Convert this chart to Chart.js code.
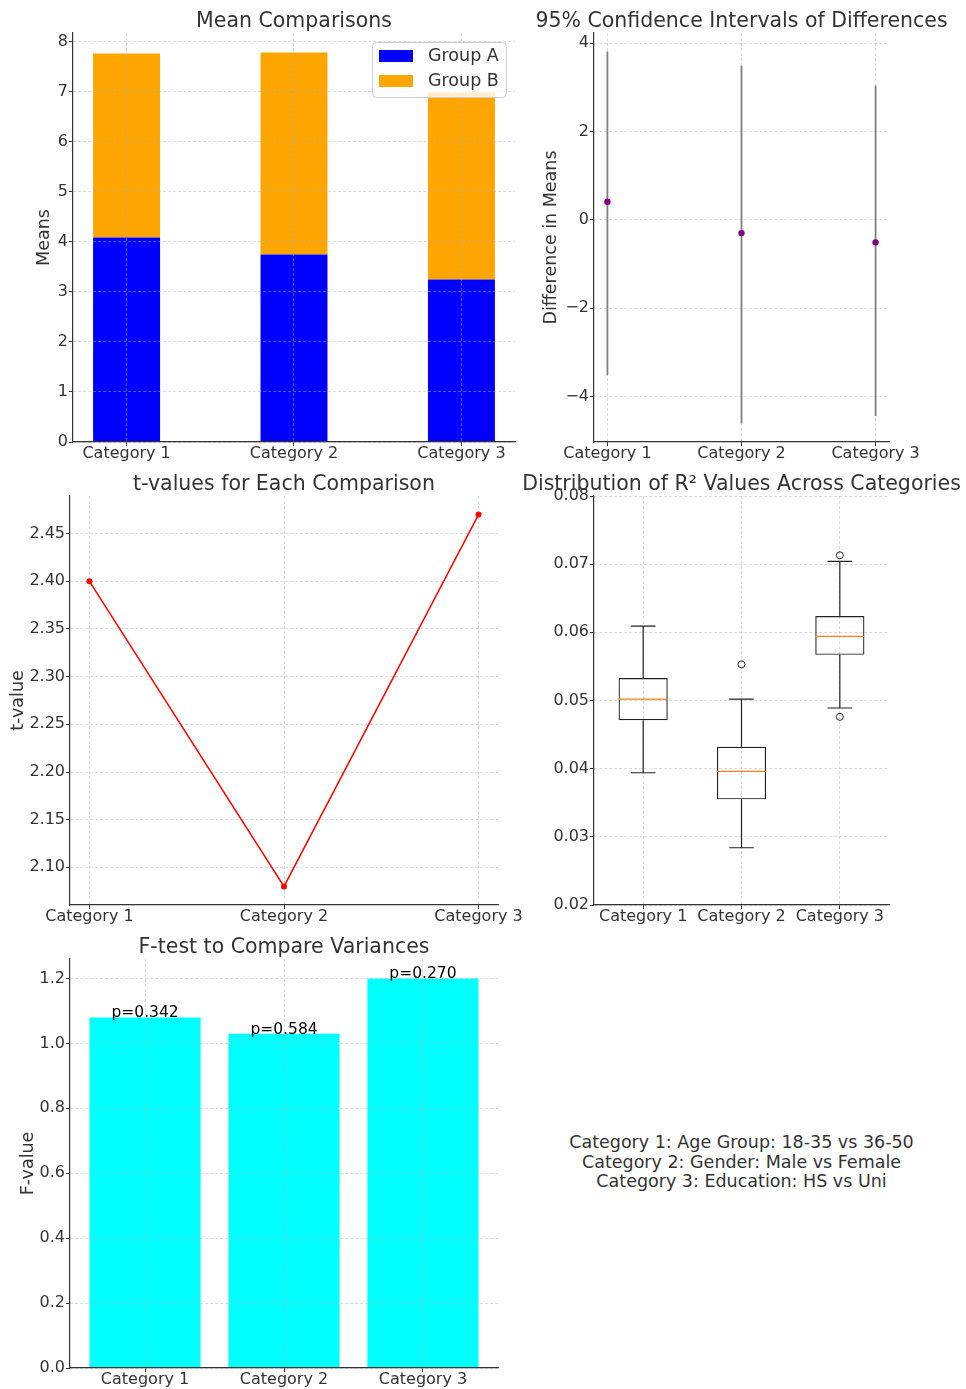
<!DOCTYPE html>
<html>
<head>
<meta charset="utf-8">
<title>Group comparisons</title>
<script src="https://cdn.jsdelivr.net/npm/chart.js@4.4.1/dist/chart.umd.min.js"></script>
<style>
  html, body { margin: 0; padding: 0; background: #fff; }
  body { width: 966px; height: 1389px; position: relative; overflow: hidden; }
  canvas { position: absolute; }
  #notes {
    position: absolute; left: 520px; width: 443px; top: 1133px;
    text-align: center; white-space: pre-line;
    font: 17.5px/19.5px 'DejaVu Sans', sans-serif; color: #333;
  }
</style>
</head>
<body>
<div id="notes"></div>
<script>
// ---- values ----
const categories = ['Category 1', 'Category 2', 'Category 3'];
const groupLabels = ['Group A', 'Group B'];

// mean comparisons (stacked bars)
const groupAMeans = [4.09, 3.75, 3.25];
const groupBMeans = [3.68, 4.04, 3.74];
const meansTicks = [0, 1, 2, 3, 4, 5, 6, 7, 8];

// 95% confidence intervals of the differences
const meanDiffs = [0.41, -0.30, -0.51];
const ciLower = [-3.52, -4.61, -4.44];
const ciUpper = [3.81, 3.49, 3.04];
const diffTicks = [-4, -2, 0, 2, 4];

// t-values
const tValues = [2.40, 2.08, 2.47];
const tTicks = [2.10, 2.15, 2.20, 2.25, 2.30, 2.35, 2.40, 2.45];

// R² distribution (box plot summaries)
const r2WhiskerLow = [0.0394, 0.0284, 0.0489];
const r2Q1 = [0.0471, 0.0355, 0.0567];
const r2Median = [0.0502, 0.0396, 0.0594];
const r2Q3 = [0.0533, 0.0432, 0.0624];
const r2WhiskerHigh = [0.0609, 0.0502, 0.0704];
const r2Outliers = [[], [0.0553], [0.0476, 0.0713]];
const r2Ticks = [0.02, 0.03, 0.04, 0.05, 0.06, 0.07, 0.08];

// F-test
const fValues = [1.08, 1.03, 1.20];
const pValues = [0.342, 0.584, 0.270];
const fTicks = [0, 0.2, 0.4, 0.6, 0.8, 1.0, 1.2];

const categoryNotes = [
    'Category 1: Age Group: 18-35 vs 36-50',
    'Category 2: Gender: Male vs Female',
    'Category 3: Education: HS vs Uni'
];

// ---- page layout: plot rectangles in page pixels ----
const panels = {
    means: { left: 73, top: 33, right: 515, bottom: 442, yAxis: 73, padTop: 33, padRight: 30, xAxis: 28, titleX: 44.5 },
    ci: { left: 594, top: 33, right: 889, bottom: 442, yAxis: 74, padTop: 33, padRight: 75, xAxis: 28, titleX: 551 },
    tvals: { left: 70, top: 496, right: 498, bottom: 905, yAxis: 70, padTop: 30, padRight: 40, xAxis: 28, titleX: 18.3 },
    r2: { left: 594, top: 496, right: 889, bottom: 905, yAxis: 84, padTop: 30, padRight: 77, xAxis: 28 },
    ftest: { left: 70, top: 959, right: 498, bottom: 1368, yAxis: 70, padTop: 30, padRight: 40, xAxis: 21, titleX: 28.3 }
};

const TEXT = '#333333';
const GRID = 'rgba(176, 176, 176, 0.6)';
const FONT = "'DejaVu Sans', 'Liberation Sans', sans-serif";

Chart.defaults.font.family = FONT;
Chart.defaults.font.size = 16;
Chart.defaults.color = TEXT;
Chart.defaults.animation = false;

document.getElementById('notes').textContent = categoryNotes.join('\n');

// matplotlib style 5% margins
function padRange(lo, hi) {
    const m = (hi - lo) * 0.05;
    return [lo - m, hi + m];
}

function minusSign(v) {
    return v < 0 ? '\u2212' + Math.abs(v) : String(v);
}

/**
 * Create a canvas placed so the chart area lands on the panel rectangle
 */
function placeCanvas(box) {
    const c = document.createElement('canvas');
    const w = box.yAxis + (box.right - box.left) + box.padRight;
    const h = box.padTop + (box.bottom - box.top) + box.xAxis;
    c.width = w;
    c.height = h;
    c.style.left = (box.left - box.yAxis) + 'px';
    c.style.top = (box.top - box.padTop) + 'px';
    c.style.width = w + 'px';
    c.style.height = h + 'px';
    document.body.appendChild(c);
    return c;
}

// grid sits above bars but below lines, like matplotlib
function gridOptions(onTop) {
    return { color: GRID, lineWidth: 0.8, z: onTop ? 1 : -1, offset: false, tickLength: 4, tickColor: TEXT, tickWidth: 1 };
}

function xAxis(box, range, ticks, labelFor, gridOnTop) {
    return {
        type: 'linear',
        min: range[0],
        max: range[1],
        offset: false,
        afterBuildTicks: s => { s.ticks = ticks.map(v => ({ value: v })); },
        afterFit: s => { s.height = box.xAxis; },
        grid: gridOptions(gridOnTop),
        border: { color: TEXT, width: 1.2, dash: [3, 2], z: 2 },
        ticks: { autoSkip: false, maxRotation: 0, padding: 0, color: TEXT, font: { size: 16, lineHeight: 1 }, callback: labelFor }
    };
}

function yAxis(box, range, ticks, fmt, title, gridOnTop) {
    const axis = {
        type: 'linear',
        min: range[0],
        max: range[1],
        afterBuildTicks: s => { s.ticks = ticks.map(v => ({ value: v })); },
        afterFit: s => { s.width = box.yAxis; },
        grid: gridOptions(gridOnTop),
        border: { color: TEXT, width: 1.2, dash: [3, 2], z: 2 },
        ticks: { padding: 1, color: TEXT, font: { size: 16, lineHeight: 1 }, callback: fmt }
    };
    if (title) {
        axis.title = {
            display: true,
            text: title,
            color: TEXT,
            font: { size: 17.5, lineHeight: 1.2 },
            padding: { top: box.titleX - (box.left - box.yAxis) - 17.5 * 1.2 / 2, bottom: 0 }
        };
    }
    return axis;
}

// panel title centred over the plot area
const panelTitle = {
    id: 'panelTitle',
    afterDraw(chart, args, opts) {
        const { ctx, chartArea } = chart;
        ctx.save();
        ctx.font = '20.5px ' + FONT;
        ctx.fillStyle = TEXT;
        ctx.textAlign = 'center';
        ctx.textBaseline = 'alphabetic';
        ctx.fillText(opts.text, (chartArea.left + chartArea.right) / 2, chartArea.top - 6);
        ctx.restore();
    }
};

// legend box drawn inside the top-right corner of the plot
const cornerLegend = {
    id: 'cornerLegend',
    afterDraw(chart) {
        const { ctx, chartArea } = chart;
        const items = chart.data.datasets;
        ctx.save();
        ctx.font = '17.5px ' + FONT;
        const textW = Math.max(...items.map(d => ctx.measureText(d.label).width));
        const w = 7 + 34 + 15 + textW + 7;
        const h = 55;
        const x0 = Math.round(chartArea.right - 9 - w);
        const y0 = Math.round(chartArea.top + 9);
        ctx.beginPath();
        ctx.roundRect(x0 + 0.5, y0 + 0.5, w, h, 4);
        ctx.fillStyle = 'rgba(255, 255, 255, 0.8)';
        ctx.fill();
        ctx.strokeStyle = '#cccccc';
        ctx.lineWidth = 1;
        ctx.stroke();
        items.forEach((d, i) => {
            const cy = y0 + 14 + i * 25;
            ctx.fillStyle = d.backgroundColor;
            ctx.fillRect(x0 + 7, cy - 6, 34, 12);
            ctx.fillStyle = TEXT;
            ctx.textAlign = 'left';
            ctx.textBaseline = 'middle';
            ctx.fillText(d.label, x0 + 56, cy);
        });
        ctx.restore();
    }
};

// p-values written on top of the F bars
const pLabels = {
    id: 'pLabels',
    afterDraw(chart) {
        const { ctx } = chart;
        const meta = chart.getDatasetMeta(0);
        ctx.save();
        ctx.font = '15.5px ' + FONT;
        ctx.fillStyle = '#000';
        ctx.textAlign = 'center';
        ctx.textBaseline = 'alphabetic';
        meta.data.forEach((bar, i) => {
            ctx.fillText('p=' + pValues[i].toFixed(3), bar.x, bar.y);
        });
        ctx.restore();
    }
};

// list of [[x1, y1], [x2, y2]] pairs -> one line dataset with gaps between pieces
function segments(pairs) {
    const out = [];
    pairs.forEach(([a, b]) => {
        out.push({ x: a[0], y: a[1] }, { x: b[0], y: b[1] }, { x: b[0], y: null });
    });
    return out;
}

function makeChart(box, type, datasets, scales, title, extra) {
    return new Chart(placeCanvas(box), {
        type,
        data: { datasets },
        options: {
            responsive: false,
            maintainAspectRatio: false,
            devicePixelRatio: 1,
            events: [],
            layout: { padding: { left: 0, top: box.padTop, right: box.padRight, bottom: 0 } },
            scales,
            plugins: {
                legend: { display: false },
                tooltip: { enabled: false },
                panelTitle: { text: title }
            }
        },
        plugins: [panelTitle].concat(extra || [])
    });
}

const catLabel = base => v => categories[Math.round(v - base)] || '';

// ---- 1. Mean Comparisons ----
const stackTops = groupAMeans.map((a, i) => a + groupBMeans[i]);
const meansXAxis = xAxis(panels.means, padRange(-0.2, 2.2), [0, 1, 2], catLabel(0), true);
meansXAxis.stacked = true;
const meansYAxis = yAxis(panels.means, [0, Math.max(...stackTops) * 1.05], meansTicks, v => String(v), 'Means', true);
meansYAxis.stacked = true;
makeChart(panels.means, 'bar', [
    { label: groupLabels[0], data: groupAMeans.map((v, i) => ({ x: i, y: v })), backgroundColor: '#0000ff', barPercentage: 0.4, categoryPercentage: 1 },
    { label: groupLabels[1], data: groupBMeans.map((v, i) => ({ x: i, y: v })), backgroundColor: '#ffa500', barPercentage: 0.4, categoryPercentage: 1 }
], { x: meansXAxis, y: meansYAxis }, 'Mean Comparisons', [cornerLegend]);

// ---- 2. Confidence intervals ----
makeChart(panels.ci, 'line', [
    {
        data: meanDiffs.map((v, i) => ({ x: i, y: v })),
        showLine: false, pointRadius: 3.2, pointBackgroundColor: '#800080', pointBorderColor: '#800080', pointBorderWidth: 0
    },
    {
        data: segments(categories.map((c, i) => [[i, ciLower[i]], [i, ciUpper[i]]])),
        borderColor: '#808080', borderWidth: 1.8, pointRadius: 0, spanGaps: false
    }
], {
    x: xAxis(panels.ci, padRange(0, 2), [0, 1, 2], catLabel(0)),
    y: yAxis(panels.ci, padRange(Math.min(...ciLower), Math.max(...ciUpper)), diffTicks, minusSign, 'Difference in Means')
}, '95% Confidence Intervals of Differences');

// ---- 3. t-values ----
makeChart(panels.tvals, 'line', [
    {
        data: tValues.map((v, i) => ({ x: i, y: v })),
        borderColor: '#ff0000', borderWidth: 1.5, tension: 0,
        pointRadius: 3, pointBackgroundColor: '#ff0000', pointBorderColor: '#ff0000', pointBorderWidth: 0
    }
], {
    x: xAxis(panels.tvals, padRange(0, 2), [0, 1, 2], catLabel(0)),
    y: yAxis(panels.tvals, padRange(Math.min(...tValues), Math.max(...tValues)), tTicks, v => v.toFixed(2), 't-value')
}, 't-values for Each Comparison');

// ---- 4. R² box plots ----
const BOX_HALF = 0.25;
const CAP_HALF = 0.125;
const pos = categories.map((c, i) => i + 1);
makeChart(panels.r2, 'bar', [
    {
        type: 'line',
        data: r2Outliers.flatMap((list, i) => list.map(v => ({ x: pos[i], y: v }))),
        showLine: false, pointRadius: 3.5, pointBackgroundColor: 'rgba(0,0,0,0)', pointBorderColor: '#222', pointBorderWidth: 1
    },
    {
        type: 'line',
        data: segments(pos.map((p, i) => [[p - BOX_HALF, r2Median[i]], [p + BOX_HALF, r2Median[i]]])),
        borderColor: '#ff7f0e', borderWidth: 1.2, pointRadius: 0, spanGaps: false
    },
    {
        type: 'line',
        data: segments(pos.flatMap((p, i) => [
            [[p - CAP_HALF, r2WhiskerHigh[i]], [p + CAP_HALF, r2WhiskerHigh[i]]],
            [[p - CAP_HALF, r2WhiskerLow[i]], [p + CAP_HALF, r2WhiskerLow[i]]],
            [[p, r2Q3[i]], [p, r2WhiskerHigh[i]]],
            [[p, r2Q1[i]], [p, r2WhiskerLow[i]]]
        ])),
        borderColor: '#222', borderWidth: 1.2, pointRadius: 0, spanGaps: false
    },
    {
        data: pos.map((p, i) => ({ x: p, y: [r2Q1[i], r2Q3[i]] })),
        backgroundColor: 'rgba(0,0,0,0)', borderColor: '#222', borderWidth: 1.2, borderSkipped: false,
        barPercentage: BOX_HALF * 2, categoryPercentage: 1
    }
], {
    x: xAxis(panels.r2, [0.5, 3.5], pos, catLabel(1)),
    y: yAxis(panels.r2, [r2Ticks[0], r2Ticks[r2Ticks.length - 1]], r2Ticks, v => v.toFixed(2))
}, 'Distribution of R\u00b2 Values Across Categories');

// ---- 5. F-test ----
makeChart(panels.ftest, 'bar', [
    {
        data: fValues.map((v, i) => ({ x: i, y: v })),
        backgroundColor: '#00ffff', barPercentage: 0.8, categoryPercentage: 1
    }
], {
    x: xAxis(panels.ftest, padRange(-0.4, 2.4), [0, 1, 2], catLabel(0), true),
    y: yAxis(panels.ftest, [0, Math.max(...fValues) * 1.05], fTicks, v => v.toFixed(1), 'F-value', true)
}, 'F-test to Compare Variances', [pLabels]);
</script>
</body>
</html>
